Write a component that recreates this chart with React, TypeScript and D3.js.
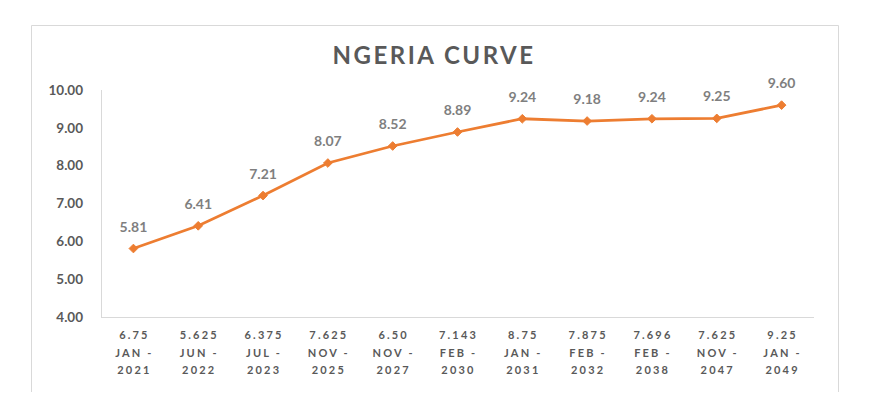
import { useEffect, useRef } from "react";
import * as d3 from "d3";

const WIDTH = 881;
const HEIGHT = 407;

const coupons = ["6.75", "5.625", "6.375", "7.625", "6.50", "7.143", "8.75", "7.875", "7.696", "7.625", "9.25"];
const months = ["JAN -", "JUN -", "JUL -", "NOV -", "NOV -", "FEB -", "JAN -", "FEB -", "FEB -", "NOV -", "JAN -"];
const years = ["2021", "2022", "2023", "2025", "2027", "2030", "2031", "2032", "2038", "2047", "2049"];
const yields = [5.81, 6.41, 7.21, 8.07, 8.52, 8.89, 9.24, 9.18, 9.24, 9.25, 9.6];
const yTicks = [4, 5, 6, 7, 8, 9, 10];

export default function App() {
  const svgRef = useRef<SVGSVGElement | null>(null);

  useEffect(() => {
    if (!svgRef.current) return;
    const svg = d3.select(svgRef.current);
    svg.selectAll("*").remove();

    const margin = { top: 90, right: 67, bottom: 90, left: 101 };
    const innerWidth = WIDTH - margin.left - margin.right;
    const innerHeight = HEIGHT - margin.top - margin.bottom;
    const font = "Lato, 'Open Sans', sans-serif";

    // outer chart frame (bottom edge is cut off in the original)
    svg
      .append("path")
      .attr("d", "M31.5,392 V25.5 H838.5 V392")
      .attr("fill", "none")
      .attr("stroke", "#d9d9d9");

    svg
      .append("text")
      .attr("x", 434)
      .attr("y", 64)
      .attr("text-anchor", "middle")
      .style("font-family", font)
      .style("font-weight", "bold")
      .style("font-size", "24px")
      .style("letter-spacing", "2.5px")
      .style("fill", "#595959")
      .text("NGERIA CURVE");

    const g = svg.append("g").attr("transform", `translate(${margin.left},${margin.top})`);

    const keys = years.map((_d, i) => String(i));
    const x = d3.scalePoint<string>().domain(keys).range([0, innerWidth]).padding(0.5);
    const y = d3.scaleLinear().domain([4, 10]).range([innerHeight, 0]);

    // axes lines
    g.append("line")
      .attr("x1", 0.5)
      .attr("x2", 0.5)
      .attr("y1", 0)
      .attr("y2", innerHeight)
      .attr("stroke", "#d9d9d9");
    g.append("line")
      .attr("x1", 0)
      .attr("x2", innerWidth)
      .attr("y1", innerHeight + 0.5)
      .attr("y2", innerHeight + 0.5)
      .attr("stroke", "#d9d9d9");

    g.selectAll(".ytick")
      .data(yTicks)
      .enter()
      .append("text")
      .attr("x", -18)
      .attr("y", (d) => y(d))
      .attr("dy", "0.35em")
      .attr("text-anchor", "end")
      .style("font-family", font)
      .style("font-weight", "bold")
      .style("font-size", "13.5px")
      .style("fill", "#595959")
      .text((d) => d3.format(".2f")(d));

    const xLabels = g
      .selectAll(".xtick")
      .data(keys)
      .enter()
      .append("text")
      .attr("text-anchor", "middle")
      .attr("transform", (d) => `translate(${x(d)},${innerHeight + 22})`)
      .style("font-family", font)
      .style("font-weight", "bold")
      .style("font-size", "11px")
      .style("letter-spacing", "2.2px")
      .style("fill", "#595959");
    [coupons, months, years].forEach((rows, r) => {
      xLabels
        .append("tspan")
        .attr("x", 1)
        .attr("y", r * 17.5)
        .text((_d, i) => rows[i]);
    });

    const line = d3
      .line<number>()
      .x((_d, i) => x(String(i)) as number)
      .y((d) => y(d));

    g.append("path")
      .datum(yields)
      .attr("d", line)
      .attr("fill", "none")
      .attr("stroke", "#ED7D31")
      .attr("stroke-width", 2.75);

    const diamond = d3.symbol().type(d3.symbolDiamond2).size(48);
    g.selectAll(".marker")
      .data(yields)
      .enter()
      .append("path")
      .attr("d", diamond)
      .attr("transform", (d, i) => `translate(${x(String(i))},${y(d)})`)
      .attr("fill", "#ED7D31")
      .attr("stroke", "#ED7D31");

    g.selectAll(".value")
      .data(yields)
      .enter()
      .append("text")
      .attr("x", (_d, i) => x(String(i)) as number)
      .attr("y", (d) => y(d) - 17)
      .attr("text-anchor", "middle")
      .style("font-family", font)
      .style("font-weight", "bold")
      .style("font-size", "14px")
      .style("fill", "#7f7f7f")
      .text((d) => d3.format(".2f")(d));
  }, []);

  return (
    <svg
      ref={svgRef}
      width={WIDTH}
      height={HEIGHT}
      style={{ position: "absolute", left: 0, top: 0, background: "#fff" }}
    />
  );
}
